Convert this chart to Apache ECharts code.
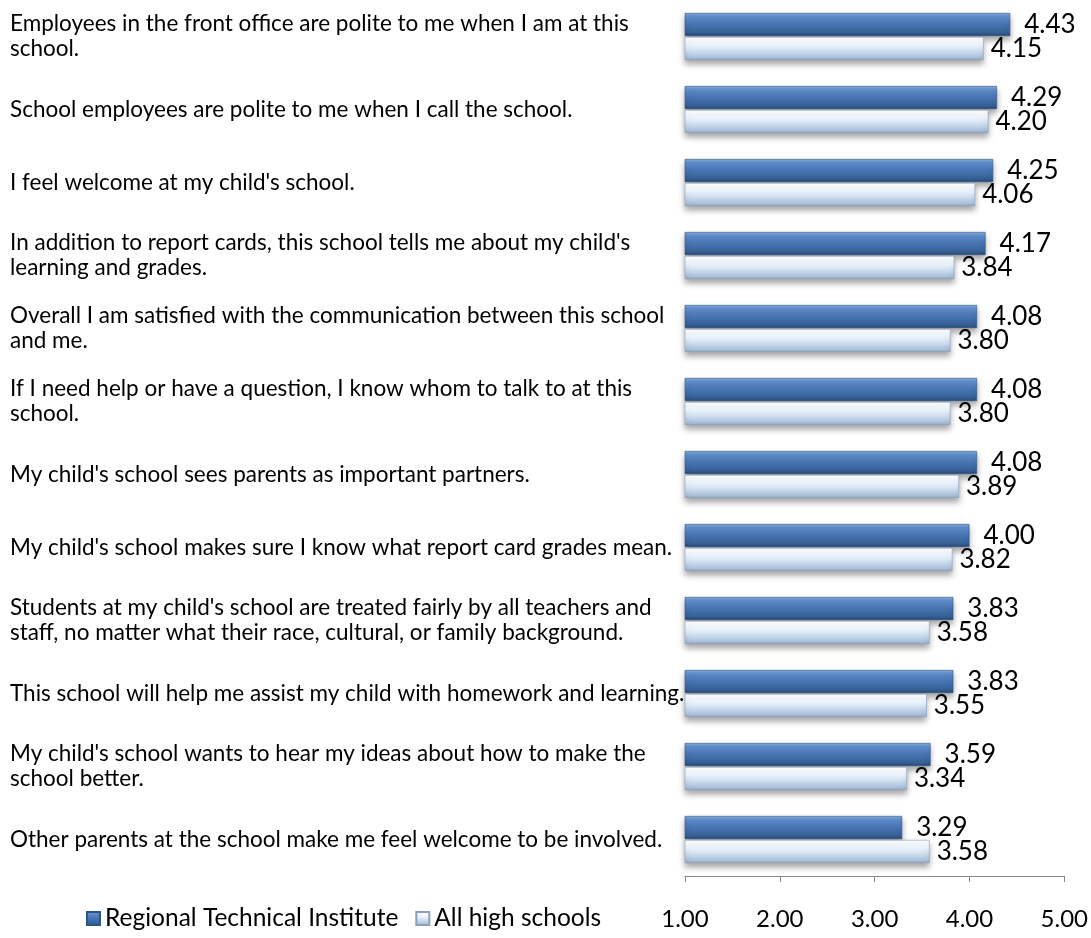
<!DOCTYPE html>
<html>
<head>
<meta charset="utf-8">
<script src="https://cdn.jsdelivr.net/npm/echarts@6/dist/echarts.min.js"></script>
<style>
html,body{margin:0;padding:0;background:#fff;}
#chart{width:1091px;height:938px;}
</style>
</head>
<body>
<div id="chart"></div>
<script>
var categories = [
  "Employees in the front office are polite to me when I am at this\nschool.",
  "School employees are polite to me when I call the school.",
  "I feel welcome at my child's school.",
  "In addition to report cards, this school tells me about my child's\nlearning and grades.",
  "Overall I am satisfied with the communication between this school\nand me.",
  "If I need help or have a question, I know whom to talk to at this\nschool.",
  "My child's school sees parents as important partners.",
  "My child's school makes sure I know what report card grades mean.",
  "Students at my child's school are treated fairly by all teachers and\nstaff, no matter what their race, cultural, or family background.",
  "This school will help me assist my child with homework and learning.",
  "My child's school wants to hear my ideas about how to make the\nschool better.",
  "Other parents at the school make me feel welcome to be involved."
];
var seriesNames = ["Regional Technical Institute", "All high schools"];
var regionalValues = [4.43, 4.29, 4.25, 4.17, 4.08, 4.08, 4.08, 4.00, 3.83, 3.83, 3.59, 3.29];
var allHighValues  = [4.15, 4.20, 4.06, 3.84, 3.80, 3.80, 3.89, 3.82, 3.58, 3.55, 3.34, 3.58];
var axisTicks = [1, 2, 3, 4, 5];

var FONT = "Lato, 'Open Sans', sans-serif";

var darkGrad = new echarts.graphic.LinearGradient(0, 0, 0, 1, [
  {offset: 0, color: '#8ab2e3'},
  {offset: 0.12, color: '#6593cf'},
  {offset: 0.45, color: '#4a78b6'},
  {offset: 0.85, color: '#365f96'},
  {offset: 1, color: '#284773'}
]);
var lightGrad = new echarts.graphic.LinearGradient(0, 0, 0, 1, [
  {offset: 0, color: '#ffffff'},
  {offset: 0.35, color: '#eef6fe'},
  {offset: 0.6, color: '#cfdff1'},
  {offset: 0.9, color: '#aabfd9'},
  {offset: 1, color: '#8ea6c4'}
]);

var chart = echarts.init(document.getElementById('chart'), null, {renderer: 'canvas'});
chart.setOption({
  animation: false,
  backgroundColor: '#ffffff',
  textStyle: {fontFamily: FONT},
  legend: {
    left: 86,
    top: 906,
    padding: 0,
    itemWidth: 13,
    itemHeight: 13,
    itemGap: 17,
    icon: 'rect',
    textStyle: {fontFamily: FONT, fontSize: 24.5, color: '#000'},
    data: seriesNames
  },
  grid: {left: 685, right: 26, top: -5.5, bottom: 62, containLabel: false},
  xAxis: {
    type: 'value',
    min: axisTicks[0],
    max: axisTicks[axisTicks.length - 1],
    interval: 1,
    axisLine: {show: true, lineStyle: {color: '#868686', width: 1}},
    axisTick: {show: true, length: 6, lineStyle: {color: '#868686'}},
    splitLine: {show: false},
    axisLabel: {
      margin: 31,
      fontFamily: FONT,
      fontSize: 24,
      color: '#000',
      formatter: function (v) { return v.toFixed(2); }
    }
  },
  yAxis: {
    type: 'category',
    inverse: true,
    data: categories,
    axisLine: {show: false},
    axisTick: {show: false},
    axisLabel: {
      align: 'left',
      margin: 675,
      fontFamily: FONT,
      fontSize: 22.5,
      lineHeight: 25,
      color: '#000'
    }
  },
  series: [
    {
      name: seriesNames[0],
      type: 'bar',
      data: regionalValues,
      barWidth: 23,
      barGap: '4%',
      itemStyle: {
        color: darkGrad,
        borderColor: '#2f5583',
        borderWidth: 0.6,
        shadowColor: 'rgba(0,0,0,0.35)',
        shadowBlur: 6,
        shadowOffsetY: 4
      },
      label: {
        show: true,
        position: 'right',
        distance: 14,
        fontFamily: FONT,
        fontSize: 26,
        color: '#000',
        formatter: function (p) { return p.value.toFixed(2); }
      }
    },
    {
      name: seriesNames[1],
      type: 'bar',
      data: allHighValues,
      barWidth: 23,
      barGap: '4%',
      itemStyle: {
        color: lightGrad,
        borderColor: '#8aa0bd',
        borderWidth: 0.6,
        shadowColor: 'rgba(0,0,0,0.35)',
        shadowBlur: 6,
        shadowOffsetY: 4
      },
      label: {
        show: true,
        position: 'right',
        distance: 7,
        fontFamily: FONT,
        fontSize: 26,
        color: '#000',
        formatter: function (p) { return p.value.toFixed(2); }
      }
    }
  ]
});
</script>
</body>
</html>
